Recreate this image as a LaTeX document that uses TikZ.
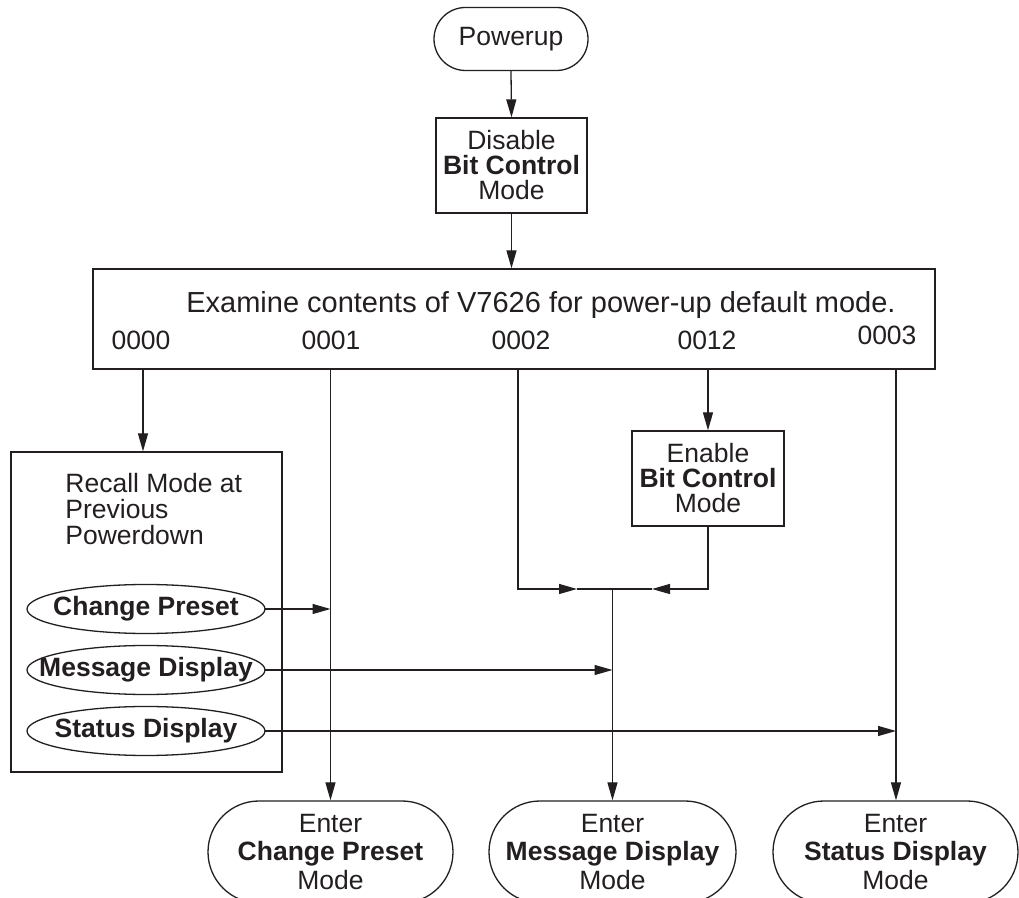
\documentclass[tikz,border=0pt]{standalone}
\usepackage{fontspec}
\setmainfont{Liberation Sans}
\usetikzlibrary{arrows.meta,shapes.misc}
\definecolor{ink}{HTML}{231F20}

\begin{document}
\begin{tikzpicture}[
  x=0.5pt, y=-0.5pt,
  every node/.style={text=ink, font=\fontsize{13.25pt}{12.5pt}\selectfont},
  line/.style={draw=ink, line width=0.65pt},
  arr/.style={line, -{Triangle[length=9pt,width=5pt]}},
  terminal/.style={rounded rectangle, draw=ink, line width=0.65pt, inner sep=0pt, align=center},
  procbox/.style={rectangle, draw=ink, line width=0.65pt, inner sep=0pt, align=center},
  % oval option: text sits in a fixed frame, the ellipse is drawn round it afterwards
  pill/.style={rectangle, inner sep=0pt, minimum width=119pt, minimum height=24.5pt,
               font=\fontsize{13.25pt}{12.5pt}\selectfont\bfseries},
  pillrim/.style={line, x radius=59.5pt, y radius=12.25pt},
  exitterm/.style={terminal, minimum width=122.5pt, minimum height=51pt,
                   font=\fontsize{13.25pt}{14.25pt}\selectfont}
]
\useasboundingbox (0,0) rectangle (1019,898);
\clip (0,0) rectangle (1019,898);

% start and bit-control reset
\node[terminal, minimum width=77pt, minimum height=31.5pt] (pwr) at (511,39) {Powerup};
\node[procbox, minimum width=75.5pt, minimum height=47.5pt] (dis) at (511.5,165.5)
  {Disable\\\textbf{Bit Control}\\Mode};

% default-mode test
\node[procbox, minimum width=421pt, minimum height=50pt] (big) at (514,319) {};
\node[font=\fontsize{14.5pt}{14pt}\selectfont] (exam) at (541,305)
  {Examine contents of V7626 for power-up default mode.};
\node (l0) at (141,340) {0000};
\node (l1) at (331,340) {0001};
\node (l2) at (521,340) {0002};
\node (l3) at (707,340) {0012};
\node (l4) at (887,335) {0003};

\coordinate (s0) at (143,369);
\coordinate (s1) at (330.5,369);
\coordinate (s2) at (518,369);
\coordinate (s3) at (708,369);
\coordinate (s4) at (896,369);

% recall branch
\node[procbox, minimum width=135.5pt, minimum height=160pt] (rec) at (146.5,612) {};
\node[anchor=west, align=left, inner sep=0pt, font=\fontsize{13.25pt}{13pt}\selectfont] (rectxt) at (65,509)
  {Recall Mode at\\Previous\\Powerdown};
\node[pill] (ocp) at (146,609) {Change Preset};
\node[pill] (omd) at (146,670) {Message Display};
\node[pill] (osd) at (146,731) {Status Display};
\draw[pillrim] (ocp.center) ellipse [];
\draw[pillrim] (omd.center) ellipse [];
\draw[pillrim] (osd.center) ellipse [];

% bit-control enable branch
\node[procbox, minimum width=76pt, minimum height=47.5pt] (ena) at (708,478.5)
  {Enable\\\textbf{Bit Control}\\Mode};

\coordinate (ja) at (577,589);
\coordinate (jb) at (652,589);
\coordinate (m) at (612.5,589);

% exit modes
\node[exitterm] (ecp) at (330.5,852) {Enter\\\textbf{Change Preset}\\Mode};
\node[exitterm] (emd) at (612.5,852) {Enter\\\textbf{Message Display}\\Mode};
\node[exitterm] (esd) at (895.5,852) {Enter\\\textbf{Status Display}\\Mode};

% connectors
\draw[arr] (pwr.south) -- (dis.north);
\draw[arr] (dis.south) -- (dis.south |- big.north);
\draw[arr] (s0) -- (s0 |- rec.north);
\draw[arr] (s1) -- (ecp.north);
\draw[arr] (s2) |- (ja);
\draw[line] (ja) -- (m);
\draw[arr] (s3) -- (ena.north);
\draw[arr] (ena.south) |- (jb);
\draw[line] (jb) -- (m);
\draw[arr] (m) -- (emd.north);
\draw[arr] (s4) -- (s4 |- esd.north);
\draw[arr] (ocp.east) -- (ocp.east -| s1);
\draw[arr] (omd.east) -- (omd.east -| m);
\draw[arr] (osd.east) -- (osd.east -| s4);
\end{tikzpicture}
\end{document}
